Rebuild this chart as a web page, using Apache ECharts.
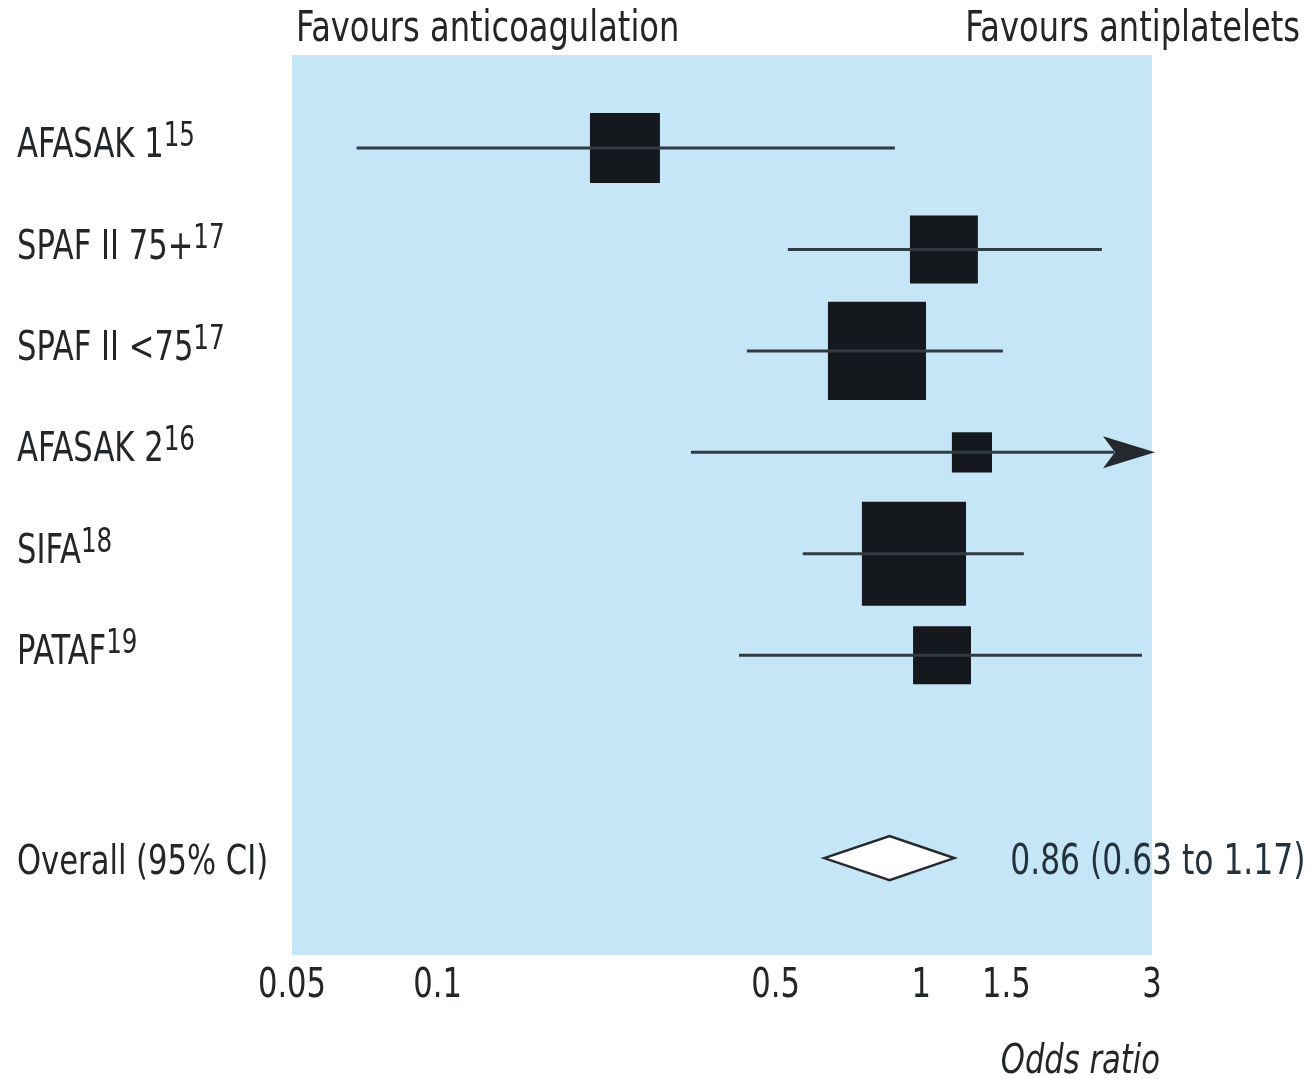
<!DOCTYPE html>
<html>
<head>
<meta charset="utf-8">
<title>Anticoagulation vs antiplatelets – odds ratios</title>
<script src="https://cdn.jsdelivr.net/npm/echarts@6/dist/echarts.min.js"></script>
<style>
  html, body { margin: 0; padding: 0; background: #ffffff; }
  #chart { width: 1316px; height: 1079px; }
</style>
</head>
<body>
<div id="chart"></div>
<script>
// Trials (row order top to bottom) with reference numbers
const trials = ['AFASAK 1', 'SPAF II 75+', 'SPAF II <75', 'AFASAK 2', 'SIFA', 'PATAF'];
const refs = ['15', '17', '17', '16', '18', '19'];
// Odds ratios with 95% confidence limits (null upper = beyond axis)
const oddsRatio = [0.244, 1.114, 0.810, 1.273, 0.966, 1.104];
const ciLower = [0.068, 0.530, 0.436, 0.334, 0.569, 0.420];
const ciUpper = [0.882, 2.363, 1.475, null, 1.630, 2.860];
// Relative study weights (%), shown as square area
const weights = [14.0, 13.2, 27.5, 4.6, 31.0, 9.6];
// Pooled estimate
const overallLabel = 'Overall (95% CI)';
const overall = { or: 0.86, lo: 0.63, hi: 1.17 };
// X axis tick labels and tick marks
const xTicks = [0.05, 0.1, 0.5, 1, 1.5, 3];
const xTickMarks = [0.1, 0.5, 1.5];

// Condensed lettering: DejaVu Sans Condensed squeezed horizontally
const FONT = '"DejaVu Sans Condensed", "DejaVu Sans", sans-serif';
const SQ = 0.83;
const INK = '#232628';
const LINE = '#333b42';
const BOX = '#15191d';
const overallRow = trials.length + 1;

const measureCtx = document.createElement('canvas').getContext('2d');
function textWidth(str, font) {
  measureCtx.font = font;
  return measureCtx.measureText(str).width;
}
function squeezedText(str, x, y, size, extra) {
  extra = extra || {};
  const font = (extra.italic ? 'italic ' : '') + size + 'px ' + FONT;
  return {
    type: 'text',
    x: x, y: y, scaleX: SQ, scaleY: 1,
    silent: true,
    style: {
      text: str, font: font, fill: extra.fill || INK,
      align: extra.align || 'left', verticalAlign: 'bottom'
    }
  };
}

const studyData = trials.map((t, i) => [oddsRatio[i], i, ciLower[i], ciUpper[i], weights[i]]);
const labelRows = trials.map((t, i) => [i]).concat([[overallRow]]);

const chart = echarts.init(document.getElementById('chart'), null, { renderer: 'canvas' });

chart.setOption({
  backgroundColor: '#ffffff',
  animation: false,
  grid: { left: 292, right: 164, top: 46.6, bottom: 119.5 },
  xAxis: {
    type: 'log',
    logBase: 10,
    min: 0.05,
    max: 3,
    axisLine: { show: false },
    splitLine: { show: false },
    axisTick: {
      show: true,
      inside: true,
      length: 34,
      customValues: xTickMarks,
      lineStyle: { color: '#ffffff', width: 3 }
    },
    axisLabel: { show: false }
  },
  yAxis: {
    type: 'value',
    inverse: true,
    min: -1,
    max: 8,
    interval: 1,
    axisLine: { show: false },
    axisTick: { show: false },
    splitLine: { show: false },
    axisLabel: { show: false }
  },
  graphic: [
    squeezedText('Favours anticoagulation', 296, 51, 43),
    squeezedText('Favours antiplatelets', 1300, 51, 43, { align: 'right' }),
    squeezedText('Odds ratio', 1160, 1083, 41, { align: 'right', italic: true })
  ],
  series: [
    {
      // shaded plotting panel and the line of no effect
      type: 'custom',
      silent: true,
      data: [],
      renderItem: () => null,
      markArea: {
        silent: true,
        itemStyle: { color: '#c5e6f6' },
        data: [[{ coord: [0.05, -0.917] }, { coord: [3, 7.956] }]]
      },
      markLine: {
        silent: true,
        symbol: ['none', 'none'],
        label: { show: false },
        lineStyle: { color: LINE, width: 3, type: 'solid' },
        data: [[{ coord: [1, -0.917] }, { coord: [1, 8.02] }]]
      },
      z: 1
    },
    {
      // x axis tick labels
      type: 'custom',
      clip: false,
      silent: true,
      encode: { x: 0 },
      data: xTicks.map(v => [v]),
      z: 5,
      renderItem: (params, api) => {
        const v = api.value(0);
        const p = api.coord([v, 8]);
        return squeezedText(String(v), p[0], p[1] + 47, 41, { align: 'center' });
      }
    },
    {
      // row labels with superscript reference numbers
      type: 'custom',
      clip: false,
      silent: true,
      encode: { y: 0 },
      data: labelRows,
      z: 5,
      renderItem: (params, api) => {
        const row = api.value(0);
        const p = api.coord([0.05, row]);
        const isOverall = row === overallRow;
        const name = isOverall ? overallLabel : trials[row];
        const base = p[1] + (isOverall ? 26 : 19);
        const children = [squeezedText(name, 17, base, 41)];
        if (!isOverall) {
          const w = textWidth(name, '41px ' + FONT) * SQ;
          children.push(squeezedText(refs[row], 17 + w, base - 13, 33));
        }
        return { type: 'group', children };
      }
    },
    {
      // individual trials: weighted square plus confidence interval
      type: 'custom',
      clip: false,
      encode: { x: 0, y: 1 },
      data: studyData,
      z: 3,
      renderItem: (params, api) => {
        const or = api.value(0), row = api.value(1);
        const lo = api.value(2), hiRaw = api.value(3), w = api.value(4);
        const c = api.coord([or, row]);
        const pLo = api.coord([lo, row]);
        const offScale = hiRaw == null || isNaN(hiRaw);
        const pHi = api.coord([offScale ? 3 : hiRaw, row]);
        const side = Math.sqrt(w) * 18.7;
        const children = [
          {
            type: 'rect',
            shape: { x: c[0] - side / 2, y: c[1] - side / 2, width: side, height: side },
            style: { fill: BOX }
          },
          {
            type: 'line',
            shape: { x1: pLo[0], y1: c[1], x2: offScale ? pHi[0] - 38 : pHi[0], y2: c[1] },
            style: { stroke: LINE, lineWidth: 3 }
          }
        ];
        if (offScale) {
          const tip = pHi[0] + 3;
          children.push({
            type: 'polygon',
            shape: { points: [[tip, c[1]], [tip - 52, c[1] - 16], [tip - 40, c[1]], [tip - 52, c[1] + 16]] },
            style: { fill: '#25292d' }
          });
        }
        return { type: 'group', children };
      }
    },
    {
      // pooled estimate diamond with its value text
      type: 'custom',
      clip: false,
      encode: { x: 0, y: 1 },
      data: [[overall.or, overallRow, overall.lo, overall.hi]],
      z: 4,
      renderItem: (params, api) => {
        const row = api.value(1);
        const c = api.coord([api.value(0), row]);
        const l = api.coord([api.value(2), row]);
        const r = api.coord([api.value(3), row]);
        const h = 22;
        const txt = api.value(0).toFixed(2) + ' (' + api.value(2).toFixed(2) + ' to ' + api.value(3).toFixed(2) + ')';
        return {
          type: 'group',
          children: [
            {
              type: 'polygon',
              shape: { points: [[l[0], c[1]], [c[0], c[1] - h], [r[0], c[1]], [c[0], c[1] + h]] },
              style: { fill: '#ffffff', stroke: '#25292d', lineWidth: 2.5 }
            },
            squeezedText(txt, r[0] + 56, c[1] + 26, 42, { fill: '#24323d' })
          ]
        };
      }
    }
  ]
});
</script>
</body>
</html>
